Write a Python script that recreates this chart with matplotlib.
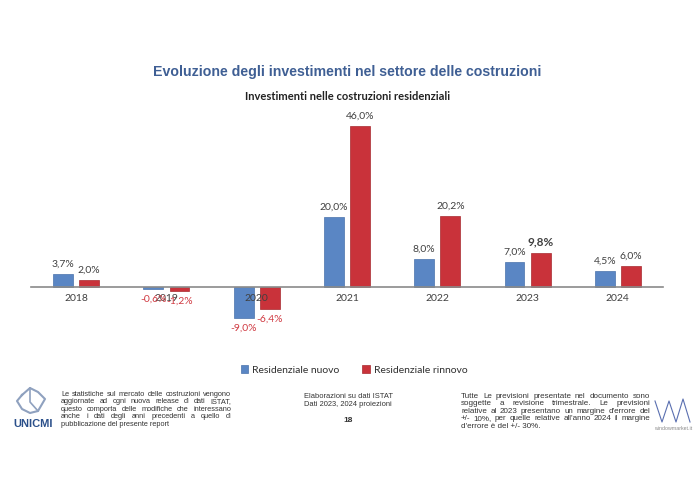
import matplotlib.pyplot as plt
import numpy as np

years = ["2018", "2019", "2020", "2021", "2022", "2023", "2024"]
nuovo = [3.7, -0.6, -9.0, 20.0, 8.0, 7.0, 4.5]
rinnovo = [2.0, -1.2, -6.4, 46.0, 20.2, 9.8, 6.0]
series_names = ["Residenziale nuovo", "Residenziale rinnovo"]

blue = "#5a86c4"
red = "#c9323a"
lab_font = "Lato"

fig = plt.figure(figsize=(6.96, 4.91), dpi=100)
W, H = 696, 491

# axes placed in pixel terms of the slide
ax = fig.add_axes([31 / W, 1 - 330 / H, 632 / W, 220 / H])
x = np.arange(len(years))
bw = 0.22
off = 0.145
b1 = ax.bar(x - off, nuovo, bw, color=blue, edgecolor="#4a72ab", linewidth=0.5, label=series_names[0])
b2 = ax.bar(x + off, rinnovo, bw, color=red, edgecolor="#a82a30", linewidth=0.5, label=series_names[1])

ax.set_xlim(-0.5, 6.5)
ax.set_ylim(-12.3, 50.6)
for s in ["top", "right", "left"]:
    ax.spines[s].set_visible(False)
ax.spines["bottom"].set_position(("data", 0))
ax.spines["bottom"].set_color("#8a8a8a")
ax.spines["bottom"].set_linewidth(1.2)
ax.set_yticks([])
ax.set_xticks(x)
ax.set_xticklabels(years, fontsize=7.5, color="#404040", family=lab_font)
ax.tick_params(axis="x", length=0, pad=5)


def fmt(v):
    return ("%.1f%%" % v).replace(".", ",")


for xs, vals in [(x - off, nuovo), (x + off, rinnovo)]:
    for xi, v in zip(xs, vals):
        if v >= 0:
            ax.annotate(fmt(v), (xi, v), xytext=(0, 4), textcoords="offset points",
                        ha="center", va="bottom", fontsize=7.5, color="#404040", family=lab_font)
        else:
            ax.annotate(fmt(v), (xi, v), xytext=(0, -4), textcoords="offset points",
                        ha="center", va="top", fontsize=7.5, color="#d03a42", family=lab_font)

# 2023 rinnovo label is bold and larger in the original
for t in ax.texts:
    if t.get_text() == "9,8%":
        t.set_fontweight("bold")
        t.set_fontsize(8.5)

leg = fig.legend(handles=[b1, b2], labels=series_names, loc="center", bbox_to_anchor=(354 / W, 1 - 370 / H),
                 ncol=2, frameon=False, prop={"family": lab_font, "size": 7.5}, handlelength=0.7,
                 handleheight=0.7, handletextpad=0.4, columnspacing=2.2)
for t in leg.get_texts():
    t.set_color("#303030")

# titles
fig.text(347 / W, 1 - 72 / H, "Evoluzione degli investimenti nel settore delle costruzioni",
         ha="center", va="center", fontsize=10.2, fontweight="bold", color="#3f5f94", family="Liberation Sans")
fig.text(348 / W, 1 - 97 / H, "Investimenti nelle costruzioni residenziali",
         ha="center", va="center", fontsize=8, fontweight="bold", color="#222222", family=lab_font)

# footer
left_lines = ["Le statistiche sul mercato delle costruzioni vengono",
              "aggiornate ad ogni nuova release di dati ISTAT,",
              "questo comporta delle modifiche che interessano",
              "anche i dati degli anni precedenti a quello di",
              "pubblicazione del presente report"]
right_lines = ["Tutte Le previsioni presentate nel documento sono",
               "soggette a revisione trimestrale. Le previsioni",
               "relative al 2023 presentano un margine d'errore  del",
               "+/- 10%, per quelle relative all'anno 2024 il margine",
               "d'errore è del +/- 30%."]

renderer = fig.canvas.get_renderer()


def justified(lines, x0, x1, y0, step, size):
    # text block justified like the original slide
    for i, line in enumerate(lines):
        y = 1 - (y0 + i * step) / H
        if i == len(lines) - 1:
            fig.text(x0 / W, y, line, ha="left", va="center", fontsize=size, color="#333333",
                     family="Liberation Sans")
            continue
        words = line.split()
        ts = [fig.text(0, y, w, ha="left", va="center", fontsize=size, color="#333333",
                       family="Liberation Sans") for w in words]
        widths = [t.get_window_extent(renderer).width for t in ts]
        gap = (x1 - x0 - sum(widths)) / (len(words) - 1)
        pos = x0
        for t, w in zip(ts, widths):
            t.set_x(pos / W)
            pos += w + gap


justified(left_lines, 61, 231, 394, 7.6, 5.35)
justified(right_lines, 461, 650, 396, 7.6, 5.8)

fig.text(348 / W, 1 - 400 / H, "Elaborazioni su dati ISTAT\nDati 2023, 2024 proiezioni", ha="center", va="center",
         fontsize=5.4, color="#333333", family="Liberation Sans", linespacing=1.2)
fig.text(348 / W, 1 - 420 / H, "18", ha="center", va="center", fontsize=6, fontweight="bold",
         color="#333333", family="Liberation Sans")

# UNICMI logo (approximate)
fig.text(33 / W, 1 - 424 / H, "UNICMI", ha="center", va="center", fontsize=8, fontweight="bold",
         color="#2a4f8a", family="Liberation Sans")
lx = np.array([22, 30, 38, 45, 38, 30, 22, 17, 22]) / W
ly = 1 - np.array([395, 388, 392, 399, 411, 413, 409, 401, 395]) / H
fig.add_artist(plt.Line2D(lx, ly, color="#8fa1bf", linewidth=1.5))
fig.add_artist(plt.Line2D(np.array([30, 30, 38]) / W, 1 - np.array([388, 402, 411]) / H,
                          color="#8fa1bf", linewidth=1.2))

# windowmarket logo (approximate)
wx = np.array([655, 662, 669, 676, 683, 690]) / W
wy = 1 - np.array([401, 422, 401, 422, 399, 422]) / H
fig.add_artist(plt.Line2D(wx, wy, color="#5a6fb0", linewidth=0.8))
fig.text(673 / W, 1 - 428 / H, "windowmarket.it", ha="center", va="center", fontsize=3.8,
         color="#8a8a8a", family="Liberation Sans")

fig.savefig("out.png", dpi=100, facecolor="white")
